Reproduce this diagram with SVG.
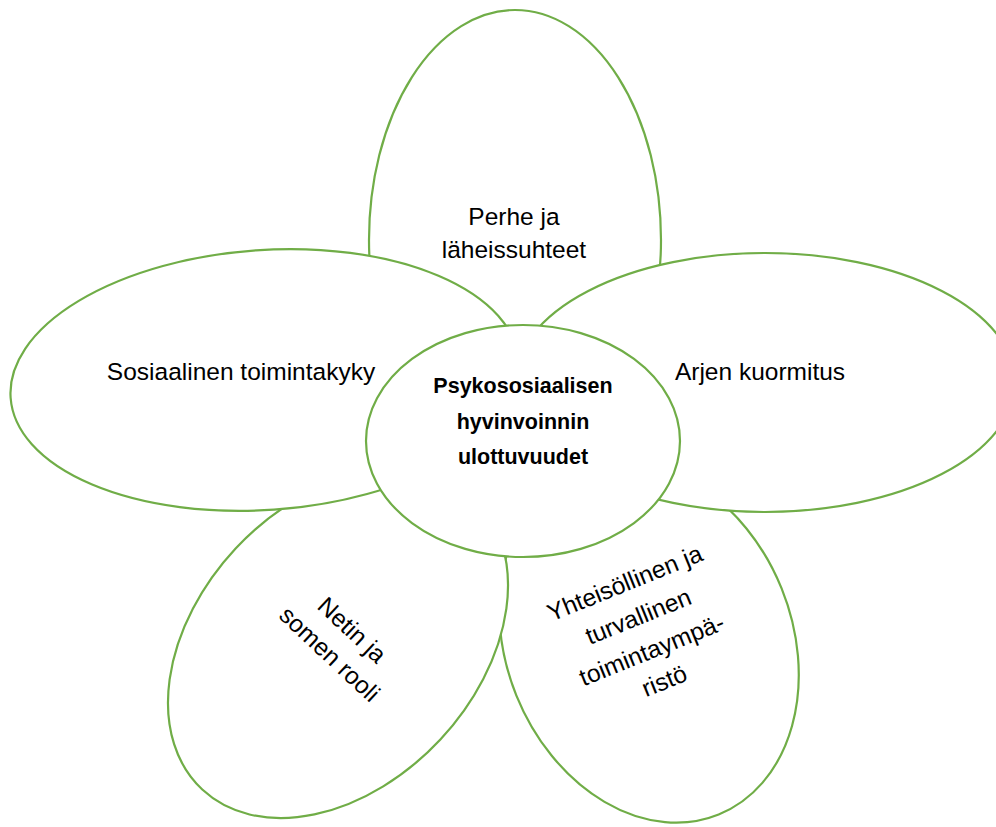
<svg xmlns="http://www.w3.org/2000/svg" width="996" height="827" viewBox="0 0 996 827">
<style>
.p{fill:#fff;stroke:#70AD47;stroke-width:2.2}
.t{font-family:"Liberation Sans",Arial,sans-serif;font-size:24.5px;fill:#000;text-anchor:middle}
.c{font-family:"Liberation Sans",Arial,sans-serif;font-size:21.5px;font-weight:bold;fill:#000;text-anchor:middle}
</style>
<rect width="996" height="827" fill="#fff"/>
<g id="petal-bottom-right">
<ellipse class="p" cx="0" cy="0" rx="143" ry="186" transform="translate(649,642) rotate(-22)"/>
<text class="t" transform="translate(645,633) rotate(-22)"><tspan x="0" y="-45.5">Yhteisöllinen ja</tspan><tspan x="0" y="-9.5">turvallinen</tspan><tspan x="0" y="26.5">toimintaympä-</tspan><tspan x="0" y="60">ristö</tspan></text>
</g>
<g id="petal-bottom-left">
<ellipse class="p" cx="0" cy="0" rx="140" ry="199" transform="translate(338,644) rotate(43)"/>
<text class="t" transform="translate(341,642) rotate(43)"><tspan x="0" y="-8">Netin ja</tspan><tspan x="0" y="25">somen rooli</tspan></text>
</g>
<g id="petal-top">
<ellipse class="p" cx="515" cy="240" rx="146" ry="230"/>
<text class="t"><tspan x="514" y="225">Perhe ja</tspan><tspan x="514" y="258">läheissuhteet</tspan></text>
</g>
<g id="petal-left">
<ellipse class="p" cx="265" cy="380" rx="255" ry="130" transform="rotate(-4 265 380)"/>
<text class="t" x="241" y="380">Sosiaalinen toimintakyky</text>
</g>
<g id="petal-right">
<ellipse class="p" cx="765" cy="382.5" rx="250" ry="129.5"/>
<text class="t" x="760" y="380">Arjen kuormitus</text>
</g>
<g id="center">
<ellipse class="p" cx="523" cy="441" rx="157" ry="116"/>
<text class="c"><tspan x="523" y="393">Psykososiaalisen</tspan><tspan x="523" y="429">hyvinvoinnin</tspan><tspan x="523" y="464">ulottuvuudet</tspan></text>
</g>
<g id="connectors"></g>
</svg>
